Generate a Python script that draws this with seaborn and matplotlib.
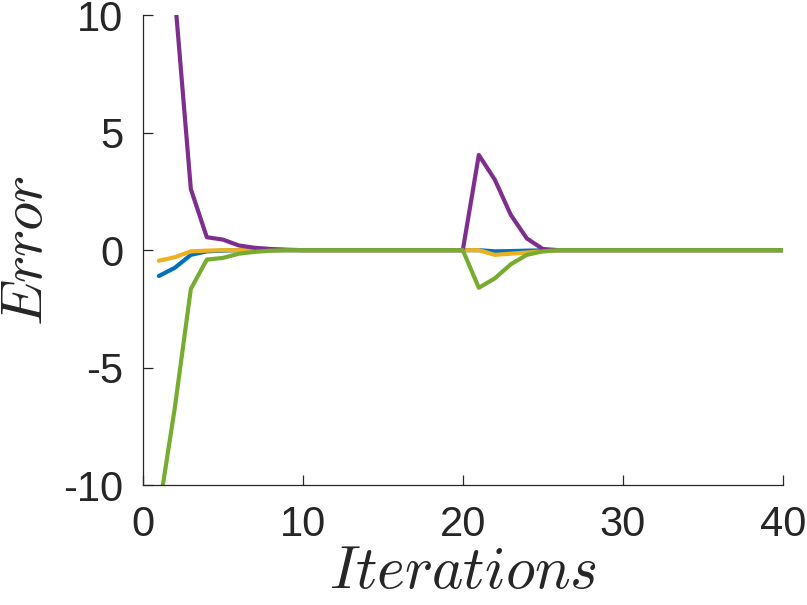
import matplotlib
matplotlib.use("Agg")
import matplotlib.pyplot as plt
import numpy as np
import pandas as pd
import seaborn as sns

# iterations 1..40
iterations = list(range(1, 41))

# error traces (zero after they settle)
err_blue = [-1.1, -0.75, -0.2, -0.05, -0.02] + [0.0] * 15 + [0.0, -0.05, -0.04, -0.02, -0.01] + [0.0] * 15
err_yellow = [-0.45, -0.3, -0.05, -0.02, 0.0] + [0.0] * 15 + [0.0, -0.2, -0.15, -0.1, -0.05] + [0.0] * 15
err_purple = [30.0, 10.8, 2.6, 0.55, 0.45, 0.2, 0.1, 0.05, 0.02, 0.0] + [0.0] * 10 + \
             [4.05, 3.0, 1.5, 0.5, 0.05] + [0.0] * 15
err_green = [-11.1, -6.7, -1.65, -0.4, -0.33, -0.15, -0.07, -0.02, 0.0, 0.0] + [0.0] * 10 + \
            [-1.6, -1.2, -0.6, -0.2, -0.05] + [0.0] * 15

series_names = ["e1", "e2", "e3", "e4"]
series_vals = [err_blue, err_yellow, err_purple, err_green]
colors = ["#0072BD", "#EDB120", "#7E2F8E", "#77AC30"]

frames = []
for name, vals in zip(series_names, series_vals):
    frames.append(pd.DataFrame({"it": iterations, "err": vals, "s": name}))
df = pd.concat(frames, ignore_index=True)

sns.set_style("ticks")
plt.rcParams['font.family'] = ['Liberation Sans', 'DejaVu Sans']
plt.rcParams['mathtext.fontset'] = 'cm'
plt.rcParams['axes.unicode_minus'] = False

fig = plt.figure(figsize=(8.07, 6.05), dpi=100)
ax = fig.add_axes([0.177, 0.198, 0.793, 0.777])

sns.lineplot(data=df, x="it", y="err", hue="s", palette=colors,
             linewidth=3.0, legend=False, ax=ax)

ax.set_xlim(0, 40)
ax.set_ylim(-10, 10)
ax.set_xticks([0, 10, 20, 30, 40])
ax.set_yticks([-10, -5, 0, 5, 10])
ax.set_xlabel("$Iterations$", fontsize=43, color="#262626", labelpad=0)
ax.set_ylabel("$Error$", fontsize=42, color="#262626", labelpad=7)

sns.despine(ax=ax)
for side in ["left", "bottom"]:
    ax.spines[side].set_color("#262626")
    ax.spines[side].set_linewidth(0.9)

ax.tick_params(axis='both', which='major', direction='in', length=7, width=0.9,
               labelsize=30, colors="#262626", pad=14, bottom=True, left=True)

fig.savefig("out.png", dpi=100)
